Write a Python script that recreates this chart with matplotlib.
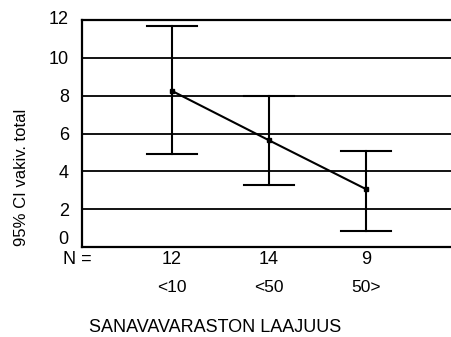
import matplotlib
matplotlib.use("Agg")
import matplotlib.pyplot as plt
import matplotlib.transforms as mtransforms

categories = ["<10", "<50", "50>"]
counts = ["12", "14", "9"]
means = [8.25, 5.64, 3.06]
ci_low = [4.89, 3.29, 0.85]
ci_high = [11.7, 7.96, 5.08]
yticks = [0, 2, 4, 6, 8, 10, 12]

plt.rcParams['font.family'] = ['Liberation Sans', 'DejaVu Sans']

W, H = 452, 337
fig = plt.figure(figsize=(W / 100, H / 100), dpi=100)
left, right, top, bottom = 82, 460, 20, 247
ax = fig.add_axes([left / W, (H - bottom) / H, (right - left) / W, (bottom - top) / H])

x = [1, 2, 3]
ax.set_xlim(1 - 90 / 97, 1 + (right - 172) / 97)
ax.set_ylim(0, 12)

for v in yticks[1:-1]:
    ax.axhline(v, color='black', lw=1.3, zorder=1)

for xi, lo, hi in zip(x, ci_low, ci_high):
    ax.plot([xi, xi], [lo, hi], color='black', lw=1.5, zorder=2)
    ax.plot([xi - 0.26, xi + 0.26], [lo, lo], color='black', lw=1.5, zorder=2)
    ax.plot([xi - 0.26, xi + 0.26], [hi, hi], color='black', lw=1.5, zorder=2)

ax.plot(x, means, color='black', lw=1.5, marker='s', ms=3.5, zorder=3)

for s in ['left', 'bottom', 'top']:
    ax.spines[s].set_linewidth(1.6)
ax.spines['right'].set_visible(False)

fs = 13
ax.set_xticks([])
ax.set_yticks(yticks)
ax.set_yticklabels([str(v) for v in yticks], fontsize=fs)
ax.tick_params(axis='y', length=0, pad=9.5)
labels = ax.get_yticklabels()
shifts = {0: 9, 12: 3}
for lab, v in zip(labels, yticks):
    if v in shifts:
        lab.set_transform(lab.get_transform() + mtransforms.ScaledTranslation(0, shifts[v] / 100, fig.dpi_scale_trans))

trans = mtransforms.blended_transform_factory(ax.transData, fig.transFigure)
for xi, c, cat in zip(x, counts, categories):
    ax.text(xi, 1 - 260 / H, c, transform=trans, ha='center', va='center', fontsize=fs)
    ax.text(xi, 1 - 287 / H, cat, transform=trans, ha='center', va='center', fontsize=fs - 0.5)
fig.text(77 / W, 1 - 260 / H, "N =", ha='center', va='center', fontsize=fs)
fig.text(215 / W, 1 - 328 / H, "SANAVAVARASTON LAAJUUS", ha='center', va='center', fontsize=fs)
fig.text(22 / W, 1 - 177 / H, "95% CI vakiv. total", ha='center', va='center', rotation=90, fontsize=12)

fig.savefig("out.png", dpi=100)
